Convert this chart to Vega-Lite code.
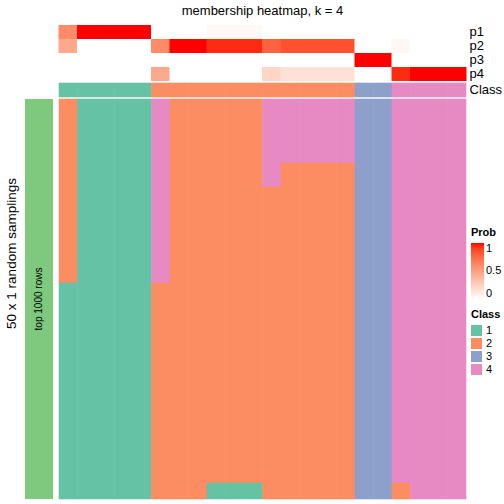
{
"$schema": "https://vega.github.io/schema/vega-lite/v6.json",
"padding": {"left": 4, "top": 5, "right": 0, "bottom": 0},
"config": {"font": "Liberation Sans", "view": {"stroke": null}, "axis": {"labelColor": "#000", "titleColor": "#000"}, "legend": {"labelColor": "#000", "titleColor": "#000"}},
"datasets": {
"prob": [
{"c":1,"p":"p1","v":0.6},{"c":1,"p":"p2","v":0.45},{"c":1,"p":"p3","v":0},{"c":1,"p":"p4","v":0},
{"c":2,"p":"p1","v":1},{"c":2,"p":"p2","v":0},{"c":2,"p":"p3","v":0},{"c":2,"p":"p4","v":0},
{"c":3,"p":"p1","v":1},{"c":3,"p":"p2","v":0},{"c":3,"p":"p3","v":0},{"c":3,"p":"p4","v":0},
{"c":4,"p":"p1","v":1},{"c":4,"p":"p2","v":0},{"c":4,"p":"p3","v":0},{"c":4,"p":"p4","v":0},
{"c":5,"p":"p1","v":1},{"c":5,"p":"p2","v":0},{"c":5,"p":"p3","v":0},{"c":5,"p":"p4","v":0},
{"c":6,"p":"p1","v":0},{"c":6,"p":"p2","v":0.6},{"c":6,"p":"p3","v":0},{"c":6,"p":"p4","v":0.45},
{"c":7,"p":"p1","v":0},{"c":7,"p":"p2","v":1},{"c":7,"p":"p3","v":0},{"c":7,"p":"p4","v":0},
{"c":8,"p":"p1","v":0},{"c":8,"p":"p2","v":1},{"c":8,"p":"p3","v":0},{"c":8,"p":"p4","v":0},
{"c":9,"p":"p1","v":0.04},{"c":9,"p":"p2","v":0.95},{"c":9,"p":"p3","v":0},{"c":9,"p":"p4","v":0},
{"c":10,"p":"p1","v":0.04},{"c":10,"p":"p2","v":0.95},{"c":10,"p":"p3","v":0},{"c":10,"p":"p4","v":0},
{"c":11,"p":"p1","v":0.04},{"c":11,"p":"p2","v":0.95},{"c":11,"p":"p3","v":0},{"c":11,"p":"p4","v":0},
{"c":12,"p":"p1","v":0},{"c":12,"p":"p2","v":0.78},{"c":12,"p":"p3","v":0},{"c":12,"p":"p4","v":0.22},
{"c":13,"p":"p1","v":0},{"c":13,"p":"p2","v":0.84},{"c":13,"p":"p3","v":0},{"c":13,"p":"p4","v":0.16},
{"c":14,"p":"p1","v":0},{"c":14,"p":"p2","v":0.84},{"c":14,"p":"p3","v":0},{"c":14,"p":"p4","v":0.16},
{"c":15,"p":"p1","v":0},{"c":15,"p":"p2","v":0.84},{"c":15,"p":"p3","v":0},{"c":15,"p":"p4","v":0.16},
{"c":16,"p":"p1","v":0},{"c":16,"p":"p2","v":0.84},{"c":16,"p":"p3","v":0},{"c":16,"p":"p4","v":0.16},
{"c":17,"p":"p1","v":0},{"c":17,"p":"p2","v":0},{"c":17,"p":"p3","v":1},{"c":17,"p":"p4","v":0},
{"c":18,"p":"p1","v":0},{"c":18,"p":"p2","v":0},{"c":18,"p":"p3","v":1},{"c":18,"p":"p4","v":0},
{"c":19,"p":"p1","v":0},{"c":19,"p":"p2","v":0.04},{"c":19,"p":"p3","v":0},{"c":19,"p":"p4","v":0.95},
{"c":20,"p":"p1","v":0},{"c":20,"p":"p2","v":0},{"c":20,"p":"p3","v":0},{"c":20,"p":"p4","v":1},
{"c":21,"p":"p1","v":0},{"c":21,"p":"p2","v":0},{"c":21,"p":"p3","v":0},{"c":21,"p":"p4","v":1},
{"c":22,"p":"p1","v":0},{"c":22,"p":"p2","v":0},{"c":22,"p":"p3","v":0},{"c":22,"p":"p4","v":1}
],
"cls": [
{"c":1,"k":1},{"c":2,"k":1},{"c":3,"k":1},{"c":4,"k":1},{"c":5,"k":1},{"c":6,"k":2},{"c":7,"k":2},{"c":8,"k":2},{"c":9,"k":2},{"c":10,"k":2},{"c":11,"k":2},{"c":12,"k":2},{"c":13,"k":2},{"c":14,"k":2},{"c":15,"k":2},{"c":16,"k":2},{"c":17,"k":3},{"c":18,"k":3},{"c":19,"k":4},{"c":20,"k":4},{"c":21,"k":4},{"c":22,"k":4}
],
"main": [
{"r":1,"c":1,"k":2},{"r":1,"c":2,"k":1},{"r":1,"c":3,"k":1},{"r":1,"c":4,"k":1},{"r":1,"c":5,"k":1},{"r":1,"c":6,"k":4},{"r":1,"c":7,"k":2},{"r":1,"c":8,"k":2},{"r":1,"c":9,"k":2},{"r":1,"c":10,"k":2},{"r":1,"c":11,"k":2},{"r":1,"c":12,"k":4},{"r":1,"c":13,"k":4},{"r":1,"c":14,"k":4},{"r":1,"c":15,"k":4},{"r":1,"c":16,"k":4},{"r":1,"c":17,"k":3},{"r":1,"c":18,"k":3},{"r":1,"c":19,"k":4},{"r":1,"c":20,"k":4},{"r":1,"c":21,"k":4},{"r":1,"c":22,"k":4},
{"r":2,"c":1,"k":2},{"r":2,"c":2,"k":1},{"r":2,"c":3,"k":1},{"r":2,"c":4,"k":1},{"r":2,"c":5,"k":1},{"r":2,"c":6,"k":4},{"r":2,"c":7,"k":2},{"r":2,"c":8,"k":2},{"r":2,"c":9,"k":2},{"r":2,"c":10,"k":2},{"r":2,"c":11,"k":2},{"r":2,"c":12,"k":4},{"r":2,"c":13,"k":4},{"r":2,"c":14,"k":4},{"r":2,"c":15,"k":4},{"r":2,"c":16,"k":4},{"r":2,"c":17,"k":3},{"r":2,"c":18,"k":3},{"r":2,"c":19,"k":4},{"r":2,"c":20,"k":4},{"r":2,"c":21,"k":4},{"r":2,"c":22,"k":4},
{"r":3,"c":1,"k":2},{"r":3,"c":2,"k":1},{"r":3,"c":3,"k":1},{"r":3,"c":4,"k":1},{"r":3,"c":5,"k":1},{"r":3,"c":6,"k":4},{"r":3,"c":7,"k":2},{"r":3,"c":8,"k":2},{"r":3,"c":9,"k":2},{"r":3,"c":10,"k":2},{"r":3,"c":11,"k":2},{"r":3,"c":12,"k":4},{"r":3,"c":13,"k":4},{"r":3,"c":14,"k":4},{"r":3,"c":15,"k":4},{"r":3,"c":16,"k":4},{"r":3,"c":17,"k":3},{"r":3,"c":18,"k":3},{"r":3,"c":19,"k":4},{"r":3,"c":20,"k":4},{"r":3,"c":21,"k":4},{"r":3,"c":22,"k":4},
{"r":4,"c":1,"k":2},{"r":4,"c":2,"k":1},{"r":4,"c":3,"k":1},{"r":4,"c":4,"k":1},{"r":4,"c":5,"k":1},{"r":4,"c":6,"k":4},{"r":4,"c":7,"k":2},{"r":4,"c":8,"k":2},{"r":4,"c":9,"k":2},{"r":4,"c":10,"k":2},{"r":4,"c":11,"k":2},{"r":4,"c":12,"k":4},{"r":4,"c":13,"k":4},{"r":4,"c":14,"k":4},{"r":4,"c":15,"k":4},{"r":4,"c":16,"k":4},{"r":4,"c":17,"k":3},{"r":4,"c":18,"k":3},{"r":4,"c":19,"k":4},{"r":4,"c":20,"k":4},{"r":4,"c":21,"k":4},{"r":4,"c":22,"k":4},
{"r":5,"c":1,"k":2},{"r":5,"c":2,"k":1},{"r":5,"c":3,"k":1},{"r":5,"c":4,"k":1},{"r":5,"c":5,"k":1},{"r":5,"c":6,"k":4},{"r":5,"c":7,"k":2},{"r":5,"c":8,"k":2},{"r":5,"c":9,"k":2},{"r":5,"c":10,"k":2},{"r":5,"c":11,"k":2},{"r":5,"c":12,"k":4},{"r":5,"c":13,"k":4},{"r":5,"c":14,"k":4},{"r":5,"c":15,"k":4},{"r":5,"c":16,"k":4},{"r":5,"c":17,"k":3},{"r":5,"c":18,"k":3},{"r":5,"c":19,"k":4},{"r":5,"c":20,"k":4},{"r":5,"c":21,"k":4},{"r":5,"c":22,"k":4},
{"r":6,"c":1,"k":2},{"r":6,"c":2,"k":1},{"r":6,"c":3,"k":1},{"r":6,"c":4,"k":1},{"r":6,"c":5,"k":1},{"r":6,"c":6,"k":4},{"r":6,"c":7,"k":2},{"r":6,"c":8,"k":2},{"r":6,"c":9,"k":2},{"r":6,"c":10,"k":2},{"r":6,"c":11,"k":2},{"r":6,"c":12,"k":4},{"r":6,"c":13,"k":4},{"r":6,"c":14,"k":4},{"r":6,"c":15,"k":4},{"r":6,"c":16,"k":4},{"r":6,"c":17,"k":3},{"r":6,"c":18,"k":3},{"r":6,"c":19,"k":4},{"r":6,"c":20,"k":4},{"r":6,"c":21,"k":4},{"r":6,"c":22,"k":4},
{"r":7,"c":1,"k":2},{"r":7,"c":2,"k":1},{"r":7,"c":3,"k":1},{"r":7,"c":4,"k":1},{"r":7,"c":5,"k":1},{"r":7,"c":6,"k":4},{"r":7,"c":7,"k":2},{"r":7,"c":8,"k":2},{"r":7,"c":9,"k":2},{"r":7,"c":10,"k":2},{"r":7,"c":11,"k":2},{"r":7,"c":12,"k":4},{"r":7,"c":13,"k":4},{"r":7,"c":14,"k":4},{"r":7,"c":15,"k":4},{"r":7,"c":16,"k":4},{"r":7,"c":17,"k":3},{"r":7,"c":18,"k":3},{"r":7,"c":19,"k":4},{"r":7,"c":20,"k":4},{"r":7,"c":21,"k":4},{"r":7,"c":22,"k":4},
{"r":8,"c":1,"k":2},{"r":8,"c":2,"k":1},{"r":8,"c":3,"k":1},{"r":8,"c":4,"k":1},{"r":8,"c":5,"k":1},{"r":8,"c":6,"k":4},{"r":8,"c":7,"k":2},{"r":8,"c":8,"k":2},{"r":8,"c":9,"k":2},{"r":8,"c":10,"k":2},{"r":8,"c":11,"k":2},{"r":8,"c":12,"k":4},{"r":8,"c":13,"k":4},{"r":8,"c":14,"k":4},{"r":8,"c":15,"k":4},{"r":8,"c":16,"k":4},{"r":8,"c":17,"k":3},{"r":8,"c":18,"k":3},{"r":8,"c":19,"k":4},{"r":8,"c":20,"k":4},{"r":8,"c":21,"k":4},{"r":8,"c":22,"k":4},
{"r":9,"c":1,"k":2},{"r":9,"c":2,"k":1},{"r":9,"c":3,"k":1},{"r":9,"c":4,"k":1},{"r":9,"c":5,"k":1},{"r":9,"c":6,"k":4},{"r":9,"c":7,"k":2},{"r":9,"c":8,"k":2},{"r":9,"c":9,"k":2},{"r":9,"c":10,"k":2},{"r":9,"c":11,"k":2},{"r":9,"c":12,"k":4},{"r":9,"c":13,"k":2},{"r":9,"c":14,"k":2},{"r":9,"c":15,"k":2},{"r":9,"c":16,"k":2},{"r":9,"c":17,"k":3},{"r":9,"c":18,"k":3},{"r":9,"c":19,"k":4},{"r":9,"c":20,"k":4},{"r":9,"c":21,"k":4},{"r":9,"c":22,"k":4},
{"r":10,"c":1,"k":2},{"r":10,"c":2,"k":1},{"r":10,"c":3,"k":1},{"r":10,"c":4,"k":1},{"r":10,"c":5,"k":1},{"r":10,"c":6,"k":4},{"r":10,"c":7,"k":2},{"r":10,"c":8,"k":2},{"r":10,"c":9,"k":2},{"r":10,"c":10,"k":2},{"r":10,"c":11,"k":2},{"r":10,"c":12,"k":4},{"r":10,"c":13,"k":2},{"r":10,"c":14,"k":2},{"r":10,"c":15,"k":2},{"r":10,"c":16,"k":2},{"r":10,"c":17,"k":3},{"r":10,"c":18,"k":3},{"r":10,"c":19,"k":4},{"r":10,"c":20,"k":4},{"r":10,"c":21,"k":4},{"r":10,"c":22,"k":4},
{"r":11,"c":1,"k":2},{"r":11,"c":2,"k":1},{"r":11,"c":3,"k":1},{"r":11,"c":4,"k":1},{"r":11,"c":5,"k":1},{"r":11,"c":6,"k":4},{"r":11,"c":7,"k":2},{"r":11,"c":8,"k":2},{"r":11,"c":9,"k":2},{"r":11,"c":10,"k":2},{"r":11,"c":11,"k":2},{"r":11,"c":12,"k":4},{"r":11,"c":13,"k":2},{"r":11,"c":14,"k":2},{"r":11,"c":15,"k":2},{"r":11,"c":16,"k":2},{"r":11,"c":17,"k":3},{"r":11,"c":18,"k":3},{"r":11,"c":19,"k":4},{"r":11,"c":20,"k":4},{"r":11,"c":21,"k":4},{"r":11,"c":22,"k":4},
{"r":12,"c":1,"k":2},{"r":12,"c":2,"k":1},{"r":12,"c":3,"k":1},{"r":12,"c":4,"k":1},{"r":12,"c":5,"k":1},{"r":12,"c":6,"k":4},{"r":12,"c":7,"k":2},{"r":12,"c":8,"k":2},{"r":12,"c":9,"k":2},{"r":12,"c":10,"k":2},{"r":12,"c":11,"k":2},{"r":12,"c":12,"k":2},{"r":12,"c":13,"k":2},{"r":12,"c":14,"k":2},{"r":12,"c":15,"k":2},{"r":12,"c":16,"k":2},{"r":12,"c":17,"k":3},{"r":12,"c":18,"k":3},{"r":12,"c":19,"k":4},{"r":12,"c":20,"k":4},{"r":12,"c":21,"k":4},{"r":12,"c":22,"k":4},
{"r":13,"c":1,"k":2},{"r":13,"c":2,"k":1},{"r":13,"c":3,"k":1},{"r":13,"c":4,"k":1},{"r":13,"c":5,"k":1},{"r":13,"c":6,"k":4},{"r":13,"c":7,"k":2},{"r":13,"c":8,"k":2},{"r":13,"c":9,"k":2},{"r":13,"c":10,"k":2},{"r":13,"c":11,"k":2},{"r":13,"c":12,"k":2},{"r":13,"c":13,"k":2},{"r":13,"c":14,"k":2},{"r":13,"c":15,"k":2},{"r":13,"c":16,"k":2},{"r":13,"c":17,"k":3},{"r":13,"c":18,"k":3},{"r":13,"c":19,"k":4},{"r":13,"c":20,"k":4},{"r":13,"c":21,"k":4},{"r":13,"c":22,"k":4},
{"r":14,"c":1,"k":2},{"r":14,"c":2,"k":1},{"r":14,"c":3,"k":1},{"r":14,"c":4,"k":1},{"r":14,"c":5,"k":1},{"r":14,"c":6,"k":4},{"r":14,"c":7,"k":2},{"r":14,"c":8,"k":2},{"r":14,"c":9,"k":2},{"r":14,"c":10,"k":2},{"r":14,"c":11,"k":2},{"r":14,"c":12,"k":2},{"r":14,"c":13,"k":2},{"r":14,"c":14,"k":2},{"r":14,"c":15,"k":2},{"r":14,"c":16,"k":2},{"r":14,"c":17,"k":3},{"r":14,"c":18,"k":3},{"r":14,"c":19,"k":4},{"r":14,"c":20,"k":4},{"r":14,"c":21,"k":4},{"r":14,"c":22,"k":4},
{"r":15,"c":1,"k":2},{"r":15,"c":2,"k":1},{"r":15,"c":3,"k":1},{"r":15,"c":4,"k":1},{"r":15,"c":5,"k":1},{"r":15,"c":6,"k":4},{"r":15,"c":7,"k":2},{"r":15,"c":8,"k":2},{"r":15,"c":9,"k":2},{"r":15,"c":10,"k":2},{"r":15,"c":11,"k":2},{"r":15,"c":12,"k":2},{"r":15,"c":13,"k":2},{"r":15,"c":14,"k":2},{"r":15,"c":15,"k":2},{"r":15,"c":16,"k":2},{"r":15,"c":17,"k":3},{"r":15,"c":18,"k":3},{"r":15,"c":19,"k":4},{"r":15,"c":20,"k":4},{"r":15,"c":21,"k":4},{"r":15,"c":22,"k":4},
{"r":16,"c":1,"k":2},{"r":16,"c":2,"k":1},{"r":16,"c":3,"k":1},{"r":16,"c":4,"k":1},{"r":16,"c":5,"k":1},{"r":16,"c":6,"k":4},{"r":16,"c":7,"k":2},{"r":16,"c":8,"k":2},{"r":16,"c":9,"k":2},{"r":16,"c":10,"k":2},{"r":16,"c":11,"k":2},{"r":16,"c":12,"k":2},{"r":16,"c":13,"k":2},{"r":16,"c":14,"k":2},{"r":16,"c":15,"k":2},{"r":16,"c":16,"k":2},{"r":16,"c":17,"k":3},{"r":16,"c":18,"k":3},{"r":16,"c":19,"k":4},{"r":16,"c":20,"k":4},{"r":16,"c":21,"k":4},{"r":16,"c":22,"k":4},
{"r":17,"c":1,"k":2},{"r":17,"c":2,"k":1},{"r":17,"c":3,"k":1},{"r":17,"c":4,"k":1},{"r":17,"c":5,"k":1},{"r":17,"c":6,"k":4},{"r":17,"c":7,"k":2},{"r":17,"c":8,"k":2},{"r":17,"c":9,"k":2},{"r":17,"c":10,"k":2},{"r":17,"c":11,"k":2},{"r":17,"c":12,"k":2},{"r":17,"c":13,"k":2},{"r":17,"c":14,"k":2},{"r":17,"c":15,"k":2},{"r":17,"c":16,"k":2},{"r":17,"c":17,"k":3},{"r":17,"c":18,"k":3},{"r":17,"c":19,"k":4},{"r":17,"c":20,"k":4},{"r":17,"c":21,"k":4},{"r":17,"c":22,"k":4},
{"r":18,"c":1,"k":2},{"r":18,"c":2,"k":1},{"r":18,"c":3,"k":1},{"r":18,"c":4,"k":1},{"r":18,"c":5,"k":1},{"r":18,"c":6,"k":4},{"r":18,"c":7,"k":2},{"r":18,"c":8,"k":2},{"r":18,"c":9,"k":2},{"r":18,"c":10,"k":2},{"r":18,"c":11,"k":2},{"r":18,"c":12,"k":2},{"r":18,"c":13,"k":2},{"r":18,"c":14,"k":2},{"r":18,"c":15,"k":2},{"r":18,"c":16,"k":2},{"r":18,"c":17,"k":3},{"r":18,"c":18,"k":3},{"r":18,"c":19,"k":4},{"r":18,"c":20,"k":4},{"r":18,"c":21,"k":4},{"r":18,"c":22,"k":4},
{"r":19,"c":1,"k":2},{"r":19,"c":2,"k":1},{"r":19,"c":3,"k":1},{"r":19,"c":4,"k":1},{"r":19,"c":5,"k":1},{"r":19,"c":6,"k":4},{"r":19,"c":7,"k":2},{"r":19,"c":8,"k":2},{"r":19,"c":9,"k":2},{"r":19,"c":10,"k":2},{"r":19,"c":11,"k":2},{"r":19,"c":12,"k":2},{"r":19,"c":13,"k":2},{"r":19,"c":14,"k":2},{"r":19,"c":15,"k":2},{"r":19,"c":16,"k":2},{"r":19,"c":17,"k":3},{"r":19,"c":18,"k":3},{"r":19,"c":19,"k":4},{"r":19,"c":20,"k":4},{"r":19,"c":21,"k":4},{"r":19,"c":22,"k":4},
{"r":20,"c":1,"k":2},{"r":20,"c":2,"k":1},{"r":20,"c":3,"k":1},{"r":20,"c":4,"k":1},{"r":20,"c":5,"k":1},{"r":20,"c":6,"k":4},{"r":20,"c":7,"k":2},{"r":20,"c":8,"k":2},{"r":20,"c":9,"k":2},{"r":20,"c":10,"k":2},{"r":20,"c":11,"k":2},{"r":20,"c":12,"k":2},{"r":20,"c":13,"k":2},{"r":20,"c":14,"k":2},{"r":20,"c":15,"k":2},{"r":20,"c":16,"k":2},{"r":20,"c":17,"k":3},{"r":20,"c":18,"k":3},{"r":20,"c":19,"k":4},{"r":20,"c":20,"k":4},{"r":20,"c":21,"k":4},{"r":20,"c":22,"k":4},
{"r":21,"c":1,"k":2},{"r":21,"c":2,"k":1},{"r":21,"c":3,"k":1},{"r":21,"c":4,"k":1},{"r":21,"c":5,"k":1},{"r":21,"c":6,"k":4},{"r":21,"c":7,"k":2},{"r":21,"c":8,"k":2},{"r":21,"c":9,"k":2},{"r":21,"c":10,"k":2},{"r":21,"c":11,"k":2},{"r":21,"c":12,"k":2},{"r":21,"c":13,"k":2},{"r":21,"c":14,"k":2},{"r":21,"c":15,"k":2},{"r":21,"c":16,"k":2},{"r":21,"c":17,"k":3},{"r":21,"c":18,"k":3},{"r":21,"c":19,"k":4},{"r":21,"c":20,"k":4},{"r":21,"c":21,"k":4},{"r":21,"c":22,"k":4},
{"r":22,"c":1,"k":2},{"r":22,"c":2,"k":1},{"r":22,"c":3,"k":1},{"r":22,"c":4,"k":1},{"r":22,"c":5,"k":1},{"r":22,"c":6,"k":4},{"r":22,"c":7,"k":2},{"r":22,"c":8,"k":2},{"r":22,"c":9,"k":2},{"r":22,"c":10,"k":2},{"r":22,"c":11,"k":2},{"r":22,"c":12,"k":2},{"r":22,"c":13,"k":2},{"r":22,"c":14,"k":2},{"r":22,"c":15,"k":2},{"r":22,"c":16,"k":2},{"r":22,"c":17,"k":3},{"r":22,"c":18,"k":3},{"r":22,"c":19,"k":4},{"r":22,"c":20,"k":4},{"r":22,"c":21,"k":4},{"r":22,"c":22,"k":4},
{"r":23,"c":1,"k":2},{"r":23,"c":2,"k":1},{"r":23,"c":3,"k":1},{"r":23,"c":4,"k":1},{"r":23,"c":5,"k":1},{"r":23,"c":6,"k":4},{"r":23,"c":7,"k":2},{"r":23,"c":8,"k":2},{"r":23,"c":9,"k":2},{"r":23,"c":10,"k":2},{"r":23,"c":11,"k":2},{"r":23,"c":12,"k":2},{"r":23,"c":13,"k":2},{"r":23,"c":14,"k":2},{"r":23,"c":15,"k":2},{"r":23,"c":16,"k":2},{"r":23,"c":17,"k":3},{"r":23,"c":18,"k":3},{"r":23,"c":19,"k":4},{"r":23,"c":20,"k":4},{"r":23,"c":21,"k":4},{"r":23,"c":22,"k":4},
{"r":24,"c":1,"k":1},{"r":24,"c":2,"k":1},{"r":24,"c":3,"k":1},{"r":24,"c":4,"k":1},{"r":24,"c":5,"k":1},{"r":24,"c":6,"k":2},{"r":24,"c":7,"k":2},{"r":24,"c":8,"k":2},{"r":24,"c":9,"k":2},{"r":24,"c":10,"k":2},{"r":24,"c":11,"k":2},{"r":24,"c":12,"k":2},{"r":24,"c":13,"k":2},{"r":24,"c":14,"k":2},{"r":24,"c":15,"k":2},{"r":24,"c":16,"k":2},{"r":24,"c":17,"k":3},{"r":24,"c":18,"k":3},{"r":24,"c":19,"k":4},{"r":24,"c":20,"k":4},{"r":24,"c":21,"k":4},{"r":24,"c":22,"k":4},
{"r":25,"c":1,"k":1},{"r":25,"c":2,"k":1},{"r":25,"c":3,"k":1},{"r":25,"c":4,"k":1},{"r":25,"c":5,"k":1},{"r":25,"c":6,"k":2},{"r":25,"c":7,"k":2},{"r":25,"c":8,"k":2},{"r":25,"c":9,"k":2},{"r":25,"c":10,"k":2},{"r":25,"c":11,"k":2},{"r":25,"c":12,"k":2},{"r":25,"c":13,"k":2},{"r":25,"c":14,"k":2},{"r":25,"c":15,"k":2},{"r":25,"c":16,"k":2},{"r":25,"c":17,"k":3},{"r":25,"c":18,"k":3},{"r":25,"c":19,"k":4},{"r":25,"c":20,"k":4},{"r":25,"c":21,"k":4},{"r":25,"c":22,"k":4},
{"r":26,"c":1,"k":1},{"r":26,"c":2,"k":1},{"r":26,"c":3,"k":1},{"r":26,"c":4,"k":1},{"r":26,"c":5,"k":1},{"r":26,"c":6,"k":2},{"r":26,"c":7,"k":2},{"r":26,"c":8,"k":2},{"r":26,"c":9,"k":2},{"r":26,"c":10,"k":2},{"r":26,"c":11,"k":2},{"r":26,"c":12,"k":2},{"r":26,"c":13,"k":2},{"r":26,"c":14,"k":2},{"r":26,"c":15,"k":2},{"r":26,"c":16,"k":2},{"r":26,"c":17,"k":3},{"r":26,"c":18,"k":3},{"r":26,"c":19,"k":4},{"r":26,"c":20,"k":4},{"r":26,"c":21,"k":4},{"r":26,"c":22,"k":4},
{"r":27,"c":1,"k":1},{"r":27,"c":2,"k":1},{"r":27,"c":3,"k":1},{"r":27,"c":4,"k":1},{"r":27,"c":5,"k":1},{"r":27,"c":6,"k":2},{"r":27,"c":7,"k":2},{"r":27,"c":8,"k":2},{"r":27,"c":9,"k":2},{"r":27,"c":10,"k":2},{"r":27,"c":11,"k":2},{"r":27,"c":12,"k":2},{"r":27,"c":13,"k":2},{"r":27,"c":14,"k":2},{"r":27,"c":15,"k":2},{"r":27,"c":16,"k":2},{"r":27,"c":17,"k":3},{"r":27,"c":18,"k":3},{"r":27,"c":19,"k":4},{"r":27,"c":20,"k":4},{"r":27,"c":21,"k":4},{"r":27,"c":22,"k":4},
{"r":28,"c":1,"k":1},{"r":28,"c":2,"k":1},{"r":28,"c":3,"k":1},{"r":28,"c":4,"k":1},{"r":28,"c":5,"k":1},{"r":28,"c":6,"k":2},{"r":28,"c":7,"k":2},{"r":28,"c":8,"k":2},{"r":28,"c":9,"k":2},{"r":28,"c":10,"k":2},{"r":28,"c":11,"k":2},{"r":28,"c":12,"k":2},{"r":28,"c":13,"k":2},{"r":28,"c":14,"k":2},{"r":28,"c":15,"k":2},{"r":28,"c":16,"k":2},{"r":28,"c":17,"k":3},{"r":28,"c":18,"k":3},{"r":28,"c":19,"k":4},{"r":28,"c":20,"k":4},{"r":28,"c":21,"k":4},{"r":28,"c":22,"k":4},
{"r":29,"c":1,"k":1},{"r":29,"c":2,"k":1},{"r":29,"c":3,"k":1},{"r":29,"c":4,"k":1},{"r":29,"c":5,"k":1},{"r":29,"c":6,"k":2},{"r":29,"c":7,"k":2},{"r":29,"c":8,"k":2},{"r":29,"c":9,"k":2},{"r":29,"c":10,"k":2},{"r":29,"c":11,"k":2},{"r":29,"c":12,"k":2},{"r":29,"c":13,"k":2},{"r":29,"c":14,"k":2},{"r":29,"c":15,"k":2},{"r":29,"c":16,"k":2},{"r":29,"c":17,"k":3},{"r":29,"c":18,"k":3},{"r":29,"c":19,"k":4},{"r":29,"c":20,"k":4},{"r":29,"c":21,"k":4},{"r":29,"c":22,"k":4},
{"r":30,"c":1,"k":1},{"r":30,"c":2,"k":1},{"r":30,"c":3,"k":1},{"r":30,"c":4,"k":1},{"r":30,"c":5,"k":1},{"r":30,"c":6,"k":2},{"r":30,"c":7,"k":2},{"r":30,"c":8,"k":2},{"r":30,"c":9,"k":2},{"r":30,"c":10,"k":2},{"r":30,"c":11,"k":2},{"r":30,"c":12,"k":2},{"r":30,"c":13,"k":2},{"r":30,"c":14,"k":2},{"r":30,"c":15,"k":2},{"r":30,"c":16,"k":2},{"r":30,"c":17,"k":3},{"r":30,"c":18,"k":3},{"r":30,"c":19,"k":4},{"r":30,"c":20,"k":4},{"r":30,"c":21,"k":4},{"r":30,"c":22,"k":4},
{"r":31,"c":1,"k":1},{"r":31,"c":2,"k":1},{"r":31,"c":3,"k":1},{"r":31,"c":4,"k":1},{"r":31,"c":5,"k":1},{"r":31,"c":6,"k":2},{"r":31,"c":7,"k":2},{"r":31,"c":8,"k":2},{"r":31,"c":9,"k":2},{"r":31,"c":10,"k":2},{"r":31,"c":11,"k":2},{"r":31,"c":12,"k":2},{"r":31,"c":13,"k":2},{"r":31,"c":14,"k":2},{"r":31,"c":15,"k":2},{"r":31,"c":16,"k":2},{"r":31,"c":17,"k":3},{"r":31,"c":18,"k":3},{"r":31,"c":19,"k":4},{"r":31,"c":20,"k":4},{"r":31,"c":21,"k":4},{"r":31,"c":22,"k":4},
{"r":32,"c":1,"k":1},{"r":32,"c":2,"k":1},{"r":32,"c":3,"k":1},{"r":32,"c":4,"k":1},{"r":32,"c":5,"k":1},{"r":32,"c":6,"k":2},{"r":32,"c":7,"k":2},{"r":32,"c":8,"k":2},{"r":32,"c":9,"k":2},{"r":32,"c":10,"k":2},{"r":32,"c":11,"k":2},{"r":32,"c":12,"k":2},{"r":32,"c":13,"k":2},{"r":32,"c":14,"k":2},{"r":32,"c":15,"k":2},{"r":32,"c":16,"k":2},{"r":32,"c":17,"k":3},{"r":32,"c":18,"k":3},{"r":32,"c":19,"k":4},{"r":32,"c":20,"k":4},{"r":32,"c":21,"k":4},{"r":32,"c":22,"k":4},
{"r":33,"c":1,"k":1},{"r":33,"c":2,"k":1},{"r":33,"c":3,"k":1},{"r":33,"c":4,"k":1},{"r":33,"c":5,"k":1},{"r":33,"c":6,"k":2},{"r":33,"c":7,"k":2},{"r":33,"c":8,"k":2},{"r":33,"c":9,"k":2},{"r":33,"c":10,"k":2},{"r":33,"c":11,"k":2},{"r":33,"c":12,"k":2},{"r":33,"c":13,"k":2},{"r":33,"c":14,"k":2},{"r":33,"c":15,"k":2},{"r":33,"c":16,"k":2},{"r":33,"c":17,"k":3},{"r":33,"c":18,"k":3},{"r":33,"c":19,"k":4},{"r":33,"c":20,"k":4},{"r":33,"c":21,"k":4},{"r":33,"c":22,"k":4},
{"r":34,"c":1,"k":1},{"r":34,"c":2,"k":1},{"r":34,"c":3,"k":1},{"r":34,"c":4,"k":1},{"r":34,"c":5,"k":1},{"r":34,"c":6,"k":2},{"r":34,"c":7,"k":2},{"r":34,"c":8,"k":2},{"r":34,"c":9,"k":2},{"r":34,"c":10,"k":2},{"r":34,"c":11,"k":2},{"r":34,"c":12,"k":2},{"r":34,"c":13,"k":2},{"r":34,"c":14,"k":2},{"r":34,"c":15,"k":2},{"r":34,"c":16,"k":2},{"r":34,"c":17,"k":3},{"r":34,"c":18,"k":3},{"r":34,"c":19,"k":4},{"r":34,"c":20,"k":4},{"r":34,"c":21,"k":4},{"r":34,"c":22,"k":4},
{"r":35,"c":1,"k":1},{"r":35,"c":2,"k":1},{"r":35,"c":3,"k":1},{"r":35,"c":4,"k":1},{"r":35,"c":5,"k":1},{"r":35,"c":6,"k":2},{"r":35,"c":7,"k":2},{"r":35,"c":8,"k":2},{"r":35,"c":9,"k":2},{"r":35,"c":10,"k":2},{"r":35,"c":11,"k":2},{"r":35,"c":12,"k":2},{"r":35,"c":13,"k":2},{"r":35,"c":14,"k":2},{"r":35,"c":15,"k":2},{"r":35,"c":16,"k":2},{"r":35,"c":17,"k":3},{"r":35,"c":18,"k":3},{"r":35,"c":19,"k":4},{"r":35,"c":20,"k":4},{"r":35,"c":21,"k":4},{"r":35,"c":22,"k":4},
{"r":36,"c":1,"k":1},{"r":36,"c":2,"k":1},{"r":36,"c":3,"k":1},{"r":36,"c":4,"k":1},{"r":36,"c":5,"k":1},{"r":36,"c":6,"k":2},{"r":36,"c":7,"k":2},{"r":36,"c":8,"k":2},{"r":36,"c":9,"k":2},{"r":36,"c":10,"k":2},{"r":36,"c":11,"k":2},{"r":36,"c":12,"k":2},{"r":36,"c":13,"k":2},{"r":36,"c":14,"k":2},{"r":36,"c":15,"k":2},{"r":36,"c":16,"k":2},{"r":36,"c":17,"k":3},{"r":36,"c":18,"k":3},{"r":36,"c":19,"k":4},{"r":36,"c":20,"k":4},{"r":36,"c":21,"k":4},{"r":36,"c":22,"k":4},
{"r":37,"c":1,"k":1},{"r":37,"c":2,"k":1},{"r":37,"c":3,"k":1},{"r":37,"c":4,"k":1},{"r":37,"c":5,"k":1},{"r":37,"c":6,"k":2},{"r":37,"c":7,"k":2},{"r":37,"c":8,"k":2},{"r":37,"c":9,"k":2},{"r":37,"c":10,"k":2},{"r":37,"c":11,"k":2},{"r":37,"c":12,"k":2},{"r":37,"c":13,"k":2},{"r":37,"c":14,"k":2},{"r":37,"c":15,"k":2},{"r":37,"c":16,"k":2},{"r":37,"c":17,"k":3},{"r":37,"c":18,"k":3},{"r":37,"c":19,"k":4},{"r":37,"c":20,"k":4},{"r":37,"c":21,"k":4},{"r":37,"c":22,"k":4},
{"r":38,"c":1,"k":1},{"r":38,"c":2,"k":1},{"r":38,"c":3,"k":1},{"r":38,"c":4,"k":1},{"r":38,"c":5,"k":1},{"r":38,"c":6,"k":2},{"r":38,"c":7,"k":2},{"r":38,"c":8,"k":2},{"r":38,"c":9,"k":2},{"r":38,"c":10,"k":2},{"r":38,"c":11,"k":2},{"r":38,"c":12,"k":2},{"r":38,"c":13,"k":2},{"r":38,"c":14,"k":2},{"r":38,"c":15,"k":2},{"r":38,"c":16,"k":2},{"r":38,"c":17,"k":3},{"r":38,"c":18,"k":3},{"r":38,"c":19,"k":4},{"r":38,"c":20,"k":4},{"r":38,"c":21,"k":4},{"r":38,"c":22,"k":4},
{"r":39,"c":1,"k":1},{"r":39,"c":2,"k":1},{"r":39,"c":3,"k":1},{"r":39,"c":4,"k":1},{"r":39,"c":5,"k":1},{"r":39,"c":6,"k":2},{"r":39,"c":7,"k":2},{"r":39,"c":8,"k":2},{"r":39,"c":9,"k":2},{"r":39,"c":10,"k":2},{"r":39,"c":11,"k":2},{"r":39,"c":12,"k":2},{"r":39,"c":13,"k":2},{"r":39,"c":14,"k":2},{"r":39,"c":15,"k":2},{"r":39,"c":16,"k":2},{"r":39,"c":17,"k":3},{"r":39,"c":18,"k":3},{"r":39,"c":19,"k":4},{"r":39,"c":20,"k":4},{"r":39,"c":21,"k":4},{"r":39,"c":22,"k":4},
{"r":40,"c":1,"k":1},{"r":40,"c":2,"k":1},{"r":40,"c":3,"k":1},{"r":40,"c":4,"k":1},{"r":40,"c":5,"k":1},{"r":40,"c":6,"k":2},{"r":40,"c":7,"k":2},{"r":40,"c":8,"k":2},{"r":40,"c":9,"k":2},{"r":40,"c":10,"k":2},{"r":40,"c":11,"k":2},{"r":40,"c":12,"k":2},{"r":40,"c":13,"k":2},{"r":40,"c":14,"k":2},{"r":40,"c":15,"k":2},{"r":40,"c":16,"k":2},{"r":40,"c":17,"k":3},{"r":40,"c":18,"k":3},{"r":40,"c":19,"k":4},{"r":40,"c":20,"k":4},{"r":40,"c":21,"k":4},{"r":40,"c":22,"k":4},
{"r":41,"c":1,"k":1},{"r":41,"c":2,"k":1},{"r":41,"c":3,"k":1},{"r":41,"c":4,"k":1},{"r":41,"c":5,"k":1},{"r":41,"c":6,"k":2},{"r":41,"c":7,"k":2},{"r":41,"c":8,"k":2},{"r":41,"c":9,"k":2},{"r":41,"c":10,"k":2},{"r":41,"c":11,"k":2},{"r":41,"c":12,"k":2},{"r":41,"c":13,"k":2},{"r":41,"c":14,"k":2},{"r":41,"c":15,"k":2},{"r":41,"c":16,"k":2},{"r":41,"c":17,"k":3},{"r":41,"c":18,"k":3},{"r":41,"c":19,"k":4},{"r":41,"c":20,"k":4},{"r":41,"c":21,"k":4},{"r":41,"c":22,"k":4},
{"r":42,"c":1,"k":1},{"r":42,"c":2,"k":1},{"r":42,"c":3,"k":1},{"r":42,"c":4,"k":1},{"r":42,"c":5,"k":1},{"r":42,"c":6,"k":2},{"r":42,"c":7,"k":2},{"r":42,"c":8,"k":2},{"r":42,"c":9,"k":2},{"r":42,"c":10,"k":2},{"r":42,"c":11,"k":2},{"r":42,"c":12,"k":2},{"r":42,"c":13,"k":2},{"r":42,"c":14,"k":2},{"r":42,"c":15,"k":2},{"r":42,"c":16,"k":2},{"r":42,"c":17,"k":3},{"r":42,"c":18,"k":3},{"r":42,"c":19,"k":4},{"r":42,"c":20,"k":4},{"r":42,"c":21,"k":4},{"r":42,"c":22,"k":4},
{"r":43,"c":1,"k":1},{"r":43,"c":2,"k":1},{"r":43,"c":3,"k":1},{"r":43,"c":4,"k":1},{"r":43,"c":5,"k":1},{"r":43,"c":6,"k":2},{"r":43,"c":7,"k":2},{"r":43,"c":8,"k":2},{"r":43,"c":9,"k":2},{"r":43,"c":10,"k":2},{"r":43,"c":11,"k":2},{"r":43,"c":12,"k":2},{"r":43,"c":13,"k":2},{"r":43,"c":14,"k":2},{"r":43,"c":15,"k":2},{"r":43,"c":16,"k":2},{"r":43,"c":17,"k":3},{"r":43,"c":18,"k":3},{"r":43,"c":19,"k":4},{"r":43,"c":20,"k":4},{"r":43,"c":21,"k":4},{"r":43,"c":22,"k":4},
{"r":44,"c":1,"k":1},{"r":44,"c":2,"k":1},{"r":44,"c":3,"k":1},{"r":44,"c":4,"k":1},{"r":44,"c":5,"k":1},{"r":44,"c":6,"k":2},{"r":44,"c":7,"k":2},{"r":44,"c":8,"k":2},{"r":44,"c":9,"k":2},{"r":44,"c":10,"k":2},{"r":44,"c":11,"k":2},{"r":44,"c":12,"k":2},{"r":44,"c":13,"k":2},{"r":44,"c":14,"k":2},{"r":44,"c":15,"k":2},{"r":44,"c":16,"k":2},{"r":44,"c":17,"k":3},{"r":44,"c":18,"k":3},{"r":44,"c":19,"k":4},{"r":44,"c":20,"k":4},{"r":44,"c":21,"k":4},{"r":44,"c":22,"k":4},
{"r":45,"c":1,"k":1},{"r":45,"c":2,"k":1},{"r":45,"c":3,"k":1},{"r":45,"c":4,"k":1},{"r":45,"c":5,"k":1},{"r":45,"c":6,"k":2},{"r":45,"c":7,"k":2},{"r":45,"c":8,"k":2},{"r":45,"c":9,"k":2},{"r":45,"c":10,"k":2},{"r":45,"c":11,"k":2},{"r":45,"c":12,"k":2},{"r":45,"c":13,"k":2},{"r":45,"c":14,"k":2},{"r":45,"c":15,"k":2},{"r":45,"c":16,"k":2},{"r":45,"c":17,"k":3},{"r":45,"c":18,"k":3},{"r":45,"c":19,"k":4},{"r":45,"c":20,"k":4},{"r":45,"c":21,"k":4},{"r":45,"c":22,"k":4},
{"r":46,"c":1,"k":1},{"r":46,"c":2,"k":1},{"r":46,"c":3,"k":1},{"r":46,"c":4,"k":1},{"r":46,"c":5,"k":1},{"r":46,"c":6,"k":2},{"r":46,"c":7,"k":2},{"r":46,"c":8,"k":2},{"r":46,"c":9,"k":2},{"r":46,"c":10,"k":2},{"r":46,"c":11,"k":2},{"r":46,"c":12,"k":2},{"r":46,"c":13,"k":2},{"r":46,"c":14,"k":2},{"r":46,"c":15,"k":2},{"r":46,"c":16,"k":2},{"r":46,"c":17,"k":3},{"r":46,"c":18,"k":3},{"r":46,"c":19,"k":4},{"r":46,"c":20,"k":4},{"r":46,"c":21,"k":4},{"r":46,"c":22,"k":4},
{"r":47,"c":1,"k":1},{"r":47,"c":2,"k":1},{"r":47,"c":3,"k":1},{"r":47,"c":4,"k":1},{"r":47,"c":5,"k":1},{"r":47,"c":6,"k":2},{"r":47,"c":7,"k":2},{"r":47,"c":8,"k":2},{"r":47,"c":9,"k":2},{"r":47,"c":10,"k":2},{"r":47,"c":11,"k":2},{"r":47,"c":12,"k":2},{"r":47,"c":13,"k":2},{"r":47,"c":14,"k":2},{"r":47,"c":15,"k":2},{"r":47,"c":16,"k":2},{"r":47,"c":17,"k":3},{"r":47,"c":18,"k":3},{"r":47,"c":19,"k":4},{"r":47,"c":20,"k":4},{"r":47,"c":21,"k":4},{"r":47,"c":22,"k":4},
{"r":48,"c":1,"k":1},{"r":48,"c":2,"k":1},{"r":48,"c":3,"k":1},{"r":48,"c":4,"k":1},{"r":48,"c":5,"k":1},{"r":48,"c":6,"k":2},{"r":48,"c":7,"k":2},{"r":48,"c":8,"k":2},{"r":48,"c":9,"k":2},{"r":48,"c":10,"k":2},{"r":48,"c":11,"k":2},{"r":48,"c":12,"k":2},{"r":48,"c":13,"k":2},{"r":48,"c":14,"k":2},{"r":48,"c":15,"k":2},{"r":48,"c":16,"k":2},{"r":48,"c":17,"k":3},{"r":48,"c":18,"k":3},{"r":48,"c":19,"k":4},{"r":48,"c":20,"k":4},{"r":48,"c":21,"k":4},{"r":48,"c":22,"k":4},
{"r":49,"c":1,"k":1},{"r":49,"c":2,"k":1},{"r":49,"c":3,"k":1},{"r":49,"c":4,"k":1},{"r":49,"c":5,"k":1},{"r":49,"c":6,"k":2},{"r":49,"c":7,"k":2},{"r":49,"c":8,"k":2},{"r":49,"c":9,"k":1},{"r":49,"c":10,"k":1},{"r":49,"c":11,"k":1},{"r":49,"c":12,"k":2},{"r":49,"c":13,"k":2},{"r":49,"c":14,"k":2},{"r":49,"c":15,"k":2},{"r":49,"c":16,"k":2},{"r":49,"c":17,"k":3},{"r":49,"c":18,"k":3},{"r":49,"c":19,"k":2},{"r":49,"c":20,"k":4},{"r":49,"c":21,"k":4},{"r":49,"c":22,"k":4},
{"r":50,"c":1,"k":1},{"r":50,"c":2,"k":1},{"r":50,"c":3,"k":1},{"r":50,"c":4,"k":1},{"r":50,"c":5,"k":1},{"r":50,"c":6,"k":2},{"r":50,"c":7,"k":2},{"r":50,"c":8,"k":2},{"r":50,"c":9,"k":1},{"r":50,"c":10,"k":1},{"r":50,"c":11,"k":1},{"r":50,"c":12,"k":2},{"r":50,"c":13,"k":2},{"r":50,"c":14,"k":2},{"r":50,"c":15,"k":2},{"r":50,"c":16,"k":2},{"r":50,"c":17,"k":3},{"r":50,"c":18,"k":3},{"r":50,"c":19,"k":2},{"r":50,"c":20,"k":4},{"r":50,"c":21,"k":4},{"r":50,"c":22,"k":4}
]
},
"columns": 2,
"align": "each",
"bounds": "flush",
"spacing": {"row": 2, "column": 6},
"resolve": {"scale": {"color": "independent", "stroke": "independent"}, "legend": {"color": "independent", "stroke": "independent"}},
"concat": [
{
"width": 28, "height": 1,
"data": {"values": []},
"mark": {"type": "rect", "opacity": 0},
"encoding": {}
},
{
"width": 407, "height": 56,
"title": {"text": "membership heatmap, k = 4", "fontSize": 13, "fontWeight": "normal", "anchor": "middle", "offset": 7},
"data": {"name": "prob"},
"mark": {"type": "rect", "width": 19.5},
"encoding": {
"x": {"field": "c", "type": "ordinal", "axis": null, "scale": {"paddingInner": 0, "paddingOuter": 0}},
"y": {"field": "p", "type": "nominal", "scale": {"paddingInner": 0, "paddingOuter": 0}, "axis": {"orient": "right", "title": null, "ticks": false, "domain": false, "labelFontSize": 13, "labelPadding": 3}},
"color": {"field": "v", "type": "quantitative", "scale": {"domain": [0, 1], "range": ["#ffffff", "#ff0000"], "interpolate": "lab"},
"legend": {"type": "gradient", "title": "Prob", "orient": "none", "legendX": 412, "legendY": 202, "gradientLength": 56, "gradientThickness": 13, "values": [0, 0.5, 1], "format": "~g", "titleFontSize": 11, "labelFontSize": 11, "gradientStrokeWidth": 0}}
}
},
{
"width": 28, "height": 1,
"data": {"values": []},
"mark": {"type": "rect", "opacity": 0},
"encoding": {}
},
{
"width": 407, "height": 14,
"data": {"name": "cls"},
"mark": {"type": "rect", "strokeWidth": 0.6},
"encoding": {
"x": {"field": "c", "type": "ordinal", "axis": null, "scale": {"paddingInner": 0, "paddingOuter": 0}},
"y": {"datum": "Class", "type": "nominal", "scale": {"paddingInner": 0, "paddingOuter": 0}, "axis": {"orient": "right", "title": null, "ticks": false, "domain": false, "labelFontSize": 13, "labelPadding": 3}},
"color": {"field": "k", "type": "nominal", "scale": {"domain": [1, 2, 3, 4], "range": ["#66C2A5", "#FC8D62", "#8DA0CB", "#E78AC3"]}, "legend": null},
"stroke": {"field": "k", "type": "nominal", "scale": {"domain": [1, 2, 3, 4], "range": ["#66C2A5", "#FC8D62", "#8DA0CB", "#E78AC3"]}, "legend": null}
}
},
{
"width": 28, "height": 400,
"data": {"values": [{"g": "top 1000 rows"}]},
"layer": [
{"mark": {"type": "rect", "color": "#7FC97F"},
"encoding": {
"x": {"field": "g", "type": "nominal", "axis": null, "scale": {"paddingInner": 0, "paddingOuter": 0}},
"y": {"field": "g", "type": "nominal", "scale": {"paddingInner": 0, "paddingOuter": 0}, "axis": {"title": "50 x 1 random samplings", "labels": false, "ticks": false, "domain": false, "titleFontSize": 13.5, "titleFontWeight": "normal", "titlePadding": 7, "titleY": 154}}
}},
{"mark": {"type": "text", "angle": 270, "fontSize": 10, "color": "#000"},
"encoding": {
"x": {"field": "g", "type": "nominal"},
"y": {"field": "g", "type": "nominal"},
"text": {"field": "g"}
}}
]
},
{
"width": 407, "height": 400,
"data": {"name": "main"},
"mark": {"type": "rect", "strokeWidth": 0.6},
"encoding": {
"x": {"field": "c", "type": "ordinal", "axis": null, "scale": {"paddingInner": 0, "paddingOuter": 0}},
"y": {"field": "r", "type": "ordinal", "axis": null, "scale": {"paddingInner": 0, "paddingOuter": 0}},
"color": {"field": "k", "type": "nominal", "scale": {"domain": [1, 2, 3, 4], "range": ["#66C2A5", "#FC8D62", "#8DA0CB", "#E78AC3"]},
"legend": {"title": "Class", "orient": "none", "legendX": 412, "legendY": 210, "symbolType": "square", "symbolSize": 121, "symbolStrokeWidth": 0, "rowPadding": 1, "titleFontSize": 11, "labelFontSize": 11}},
"stroke": {"field": "k", "type": "nominal", "scale": {"domain": [1, 2, 3, 4], "range": ["#66C2A5", "#FC8D62", "#8DA0CB", "#E78AC3"]}, "legend": null}
}
}
]
}
